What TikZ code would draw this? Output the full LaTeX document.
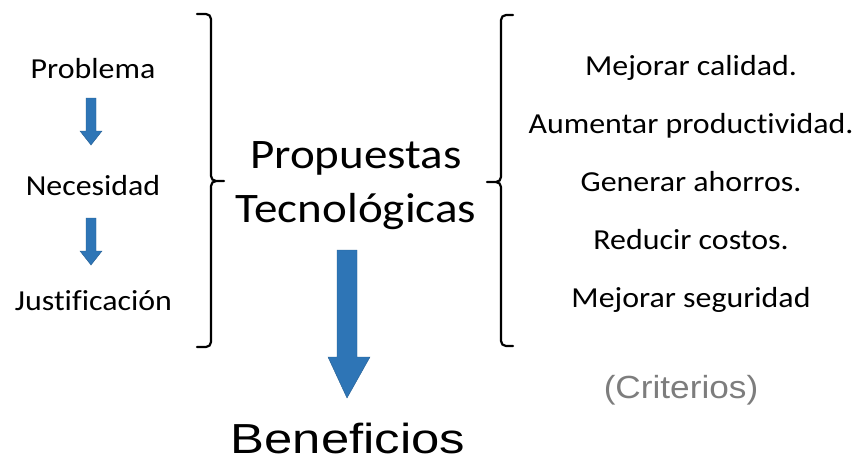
\documentclass[tikz,border=0pt]{standalone}
\usepackage{graphicx}
\usepackage{fontspec}
\setmainfont{Carlito}[Ligatures=NoCommon]
\newfontfamily\arialf{Liberation Sans}
\definecolor{arrowblue}{RGB}{46,117,182}
\definecolor{critgray}{RGB}{125,125,125}
\newcommand{\hstretch}[2]{\scalebox{#1}[1]{#2}}
\begin{document}
\begin{tikzpicture}[x=1pt,y=-1pt,
  lbl/.style={inner sep=0pt,anchor=base,font=\fontsize{29}{32}\selectfont},
  big/.style={inner sep=0pt,anchor=base,font=\fontsize{42}{46}\selectfont},
  brace/.style={line width=2.2pt,black,line cap=round,line join=round},
  barrow/.style={fill=arrowblue,draw=arrowblue!80!black,line width=0.4pt}]
\useasboundingbox (0,0) rectangle (857,463);
% left column
\node[lbl] (prob) at (93,78) {\hstretch{1.1}{Problema}};
\node[lbl] (nec) at (93,195) {\hstretch{1.1}{Necesidad}};
\node[lbl] (just) at (93.5,310) {\hstretch{1.1}{Justificación}};
% small arrows
\draw[barrow] (86,98) -- (96,98) -- (96,131) -- (102,131) -- (91,145) -- (80,131) -- (86,131) -- cycle;
\draw[barrow] (86,218) -- (96,218) -- (96,251) -- (102,251) -- (91,265) -- (80,251) -- (86,251) -- cycle;
% left brace
\draw[brace] (197,14) -- (206,14) to[out=0,in=90] (211,19) -- (211,176) to[out=-90,in=180] (216,181) -- (224,181);
\draw[brace] (216,181) to[out=180,in=90] (211,186) -- (211,342) to[out=-90,in=0] (206,347) -- (197,347);
% right brace
\draw[brace] (513,15) -- (506,15) to[out=180,in=90] (501,20) -- (501,177) to[out=-90,in=0] (496,182) -- (487,182);
\draw[brace] (496,182) to[out=0,in=90] (501,187) -- (501,341) to[out=-90,in=180] (506,346) -- (513,346);
% center
\node[big] (prop) at (356,168) {\hstretch{1.12}{Propuestas}};
\node[big] (tec) at (356,222) {\hstretch{1.12}{Tecnológicas}};
\draw[barrow] (337,250) -- (357,250) -- (357,357) -- (370,357) -- (347,398) -- (328,357) -- (337,357) -- cycle;
\node[inner sep=0pt,anchor=base,font=\arialf\fontsize{42}{48}\selectfont] (ben) at (348,453) {\hstretch{1.21}{Beneficios}};
% right column
\node[lbl] (c1) at (691,75) {\hstretch{1.1}{Mejorar calidad.}};
\node[lbl] (c2) at (691,133) {\hstretch{1.1}{Aumentar productividad.}};
\node[lbl] (c3) at (691,191) {\hstretch{1.1}{Generar ahorros.}};
\node[lbl] (c4) at (691,249) {\hstretch{1.1}{Reducir costos.}};
\node[lbl] (c5) at (691,307) {\hstretch{1.1}{Mejorar seguridad}};
\node[inner sep=0pt,anchor=base,text=critgray,font=\arialf\fontsize{32}{36}\selectfont] (cr) at (681,398) {\hstretch{1.1}{(Criterios)}};
\end{tikzpicture}
\end{document}
